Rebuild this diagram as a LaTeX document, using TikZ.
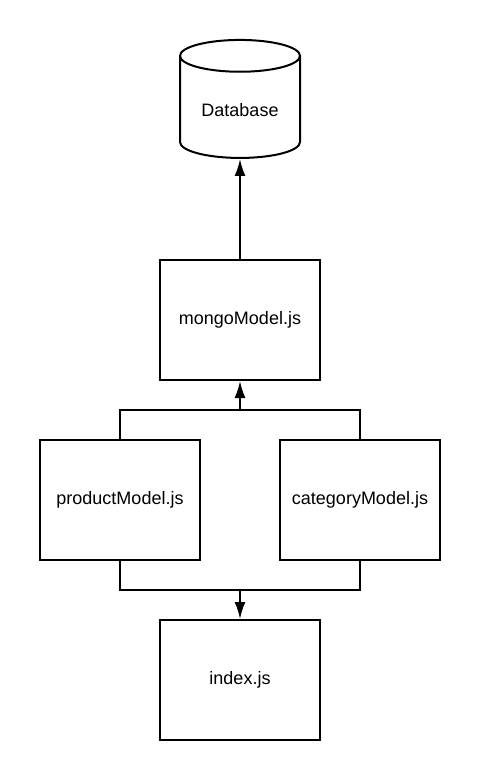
\documentclass[tikz,border=0pt]{standalone}
\usepackage{fontspec}
\setmainfont{Liberation Sans}
\usetikzlibrary{arrows.meta,shapes.geometric}

\begin{document}
\begin{tikzpicture}[x=1pt,y=-1pt,
    box/.style={draw, line width=2pt, minimum width=160pt, minimum height=120pt, font=\fontsize{18}{21}\selectfont},
    link/.style={line width=2pt},
    arr/.style={line width=2pt, -{Latex[length=17pt,width=11pt]}}]
    \useasboundingbox (0,0) rectangle (480,780);

    \node[draw, line width=2pt, cylinder, shape border rotate=90, aspect=0.38,
      minimum width=120pt, minimum height=118pt, font=\fontsize{18}{21}\selectfont] (db) at (240,110) {Database};
    \node[box] (mongo) at (240,320) {mongoModel.js};
    \node[box] (product) at (120,500) {productModel.js};
    \node[box] (category) at (360,500) {categoryModel.js};
    \node[box] (index) at (240,680) {index.js};

    % joins above and below the two models
    \coordinate (top) at (240,410);
    \coordinate (bot) at (240,590);
    \draw[link] (product.north) |- (top) -| (category.north);
    \draw[link] (product.south) |- (bot) -| (category.south);

    \draw[arr] (mongo.north) -- (db.bottom);
    \draw[arr] (top) -- (mongo.south);
    \draw[arr] (bot) -- (index.north);
\end{tikzpicture}
\end{document}
